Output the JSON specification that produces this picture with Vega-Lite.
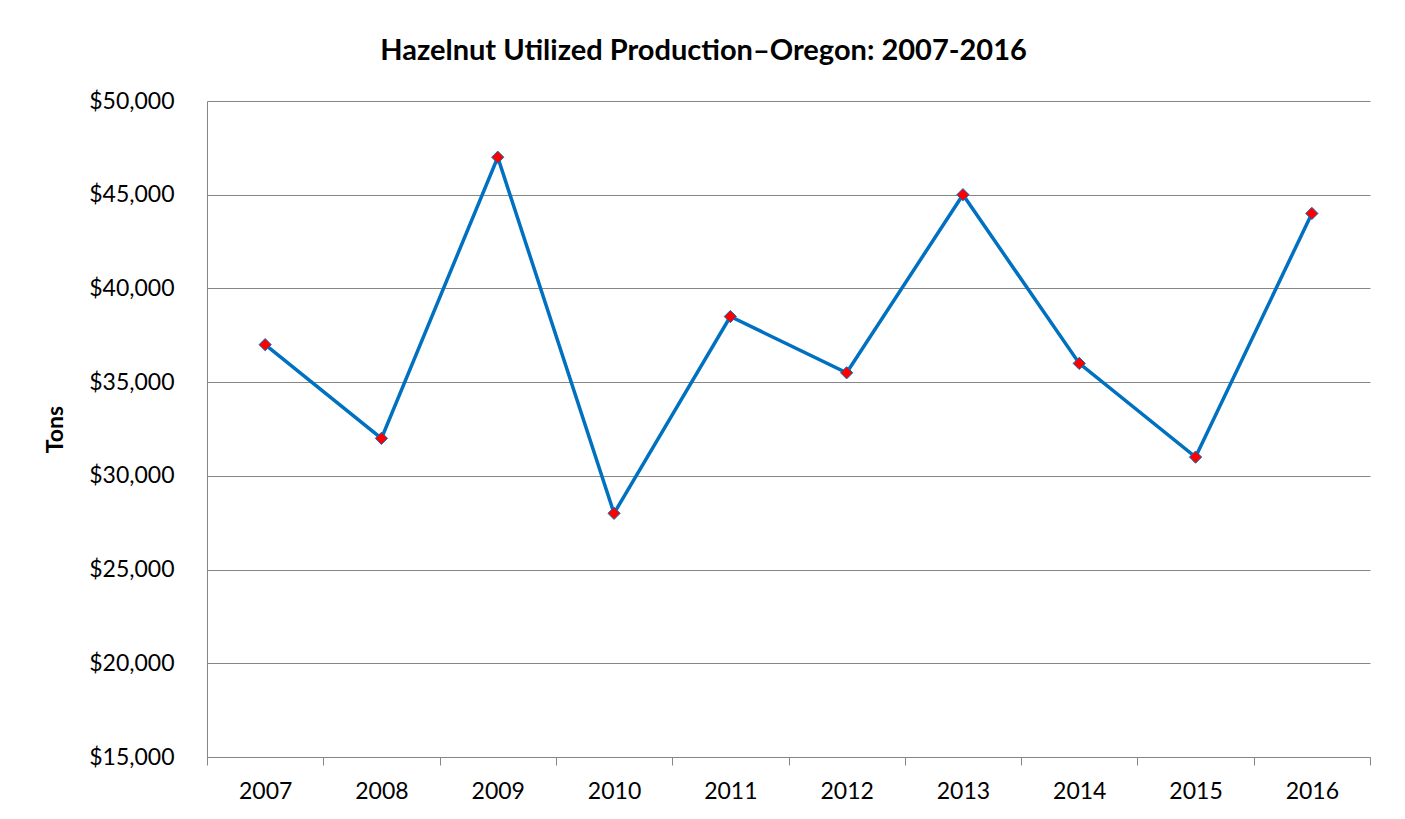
{
  "$schema": "https://vega.github.io/schema/vega-lite/v6.json",
  "width": 1163,
  "height": 656,
  "autosize": {"type": "none"},
  "padding": {"left": 207, "top": 101, "right": 35, "bottom": 62},
  "background": "white",
  "title": {
    "text": "Hazelnut Utilized Production–Oregon: 2007-2016",
    "font": "Lato",
    "fontSize": 29,
    "fontWeight": "bold",
    "color": "#000000",
    "anchor": "middle",
    "dx": -85,
    "offset": 24
  },
  "data": {
    "values": [
      {"year": 2007, "tons": 37000},
      {"year": 2008, "tons": 32000},
      {"year": 2009, "tons": 47000},
      {"year": 2010, "tons": 28000},
      {"year": 2011, "tons": 38500},
      {"year": 2012, "tons": 35500},
      {"year": 2013, "tons": 45000},
      {"year": 2014, "tons": 36000},
      {"year": 2015, "tons": 31000},
      {"year": 2016, "tons": 44000}
    ]
  },
  "encoding": {
    "x": {
      "field": "year",
      "type": "quantitative",
      "scale": {"domain": [2006.5, 2016.5], "nice": false, "zero": false},
      "axis": {
        "title": null,
        "values": [2006.5, 2007, 2007.5, 2008, 2008.5, 2009, 2009.5, 2010, 2010.5, 2011, 2011.5, 2012, 2012.5, 2013, 2013.5, 2014, 2014.5, 2015, 2015.5, 2016, 2016.5],
        "labelExpr": "datum.value % 1 === 0 ? '' + datum.value : ''",
        "tickOpacity": {"condition": {"test": "datum.value % 1 !== 0", "value": 1}, "value": 0},
        "grid": false,
        "domainColor": "#868686",
        "tickColor": "#868686",
        "tickSize": 8,
        "labelFont": "Lato",
        "labelFontSize": 23,
        "labelColor": "#000000",
        "labelPadding": 15,
        "labelFlush": false,
        "labelOverlap": false
      }
    },
    "y": {
      "field": "tons",
      "type": "quantitative",
      "scale": {"domain": [15000, 50000], "nice": false, "zero": false},
      "axis": {
        "title": "Tons",
        "titleFont": "Lato",
        "titleFontSize": 23,
        "titleFontWeight": "bold",
        "titleColor": "#000000",
        "titlePadding": 21,
        "values": [15000, 20000, 25000, 30000, 35000, 40000, 45000, 50000],
        "format": "$,.0f",
        "ticks": false,
        "gridColor": "#868686",
        "domainColor": "#868686",
        "labelFont": "Lato",
        "labelFontSize": 23,
        "labelColor": "#000000",
        "labelPadding": 33
      }
    }
  },
  "layer": [
    {
      "mark": {"type": "line", "color": "#0070C0", "strokeWidth": 3.5}
    },
    {
      "mark": {"type": "point", "shape": "diamond", "filled": true, "fill": "#FF0000", "stroke": "#0070C0", "strokeWidth": 1, "size": 150, "opacity": 1}
    }
  ],
  "config": {"view": {"stroke": null}}
}
